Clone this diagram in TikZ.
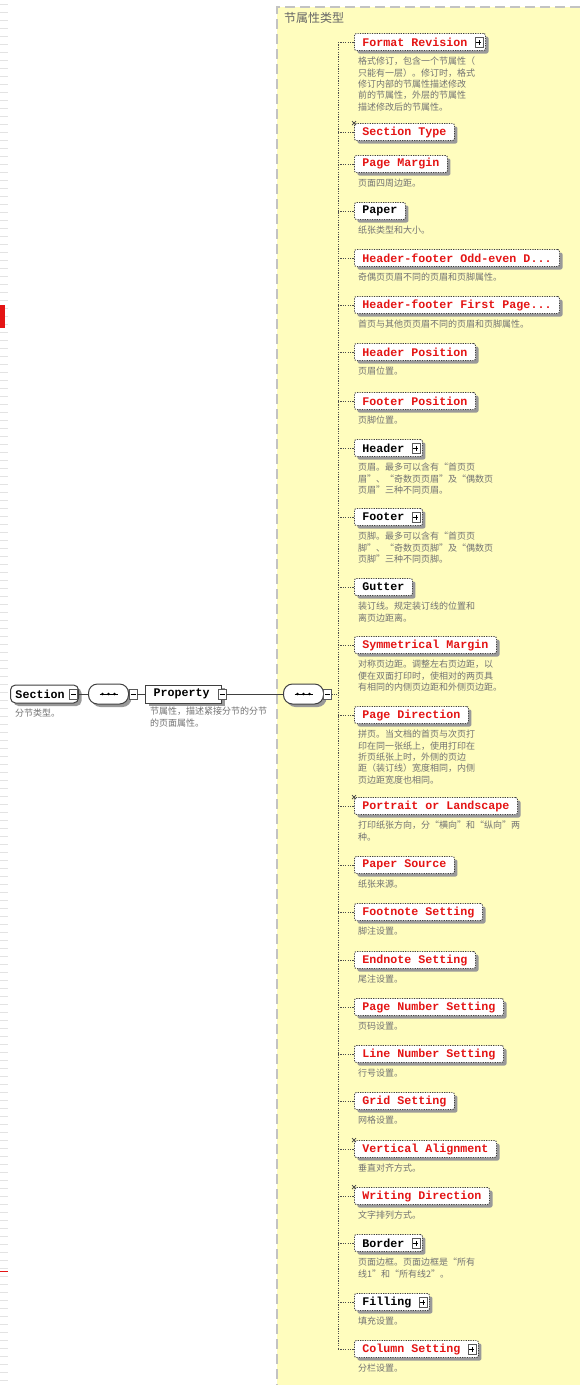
\documentclass[tikz,border=0pt]{standalone}
\usepackage{fontspec}
\setmonofont{Liberation Mono}
\newfontfamily\cjk{Noto Sans CJK SC}
\usetikzlibrary{shadows,calc}
\definecolor{panelyellow}{RGB}{255,253,190}
\definecolor{elred}{RGB}{228,20,20}
\definecolor{desctxt}{RGB}{115,115,115}
\definecolor{bordergray}{RGB}{195,195,195}
\tikzset{
  x=1pt,y=-1pt,
  shad/.style={drop shadow={shadow xshift=3pt,shadow yshift=-3pt,fill=black!40,opacity=1}},
  ebox/.style={draw=black!75,dash pattern=on 1.2pt off 1.2pt,line width=0.9pt,fill=white,
    rounded corners=2pt,minimum height=17pt,inner xsep=8pt,inner ysep=0pt,
    font=\ttfamily\bfseries\fontsize{11.67}{12}\selectfont,shad},
  rootbox/.style={draw=black!75,line width=1pt,fill=white,minimum height=18pt,inner ysep=0pt,
    font=\ttfamily\bfseries\fontsize{11.67}{12}\selectfont,shad},
  compbox/.style={draw=black!75,line width=1pt,fill=white,minimum width=40pt,minimum height=20pt,
    rounded corners=9pt,inner sep=0pt,shad},
  redel/.style={text=elred},
  blkel/.style={text=black},
  desc/.style={text=desctxt,font=\cjk\fontsize{9}{11.3}\selectfont,align=left,inner sep=0pt},
  stub/.style={draw=black!70,dash pattern=on 1.2pt off 1.2pt,line width=0.8pt},
  conn/.style={draw=black!75,line width=0.9pt},
  iconbase/.style={draw=black!65,fill=white,line width=0.6pt,minimum width=8pt,minimum height=10pt,inner sep=0pt},
  iconminus/.style={iconbase,path picture={\draw[black,line width=0.6pt]
      ($(path picture bounding box.center)+(-2.5pt,0pt)$) -- ++(5pt,0pt);}},
  iconplus/.style={iconbase,path picture={\draw[black,line width=0.6pt]
      ($(path picture bounding box.center)+(-2.5pt,0pt)$) -- ++(5pt,0pt)
      ($(path picture bounding box.center)+(0pt,-2.5pt)$) -- ++(0pt,5pt);}},
  panelborder/.style={draw=bordergray,line width=2.5pt,dash pattern=on 10pt off 5pt},
  cornermark/.style={draw=black!75,line width=0.7pt},
}
\newcommand\kid[4]{%
  \node[ebox,#3,anchor=west] (#1) at (354,#2) {#4};
  \draw[stub] (#1.west -| trunk) -- (#1.west);}
\newcommand\kiddesc[3]{\node[desc,anchor=north west] (#1d) at (358,#2+15) {#3};}
\newcommand\kidplus[1]{\node[iconplus] (#1p) at ([xshift=-7pt]#1.east) {};}
\newcommand\kidmark[1]{\draw[cornermark] ([xshift=-2pt,yshift=2pt]#1.north west) -- ++(4pt,-4pt)
  ([xshift=2pt,yshift=2pt]#1.north west) -- ++(-4pt,-4pt);}
\newcommand\gapx[1]{\rule{#1}{0pt}}
\begin{document}
\begin{tikzpicture}
\useasboundingbox (0,0) rectangle (580,1385);
\fill[white] (0,0) rectangle (580,1385);
% left-edge artefacts
\foreach \yy in {4,12,...,1380} \draw[black!11,line width=0.5pt] (0,\yy) -- (8,\yy);
\fill[elred] (0,305) rectangle (5,328);
\draw[elred,line width=1pt] (0,1271) -- (8,1271);
% panel
\fill[panelyellow] (277,7) rectangle (580,1385);
\draw[panelborder] (580,7) -- (277,7) -- (277,1385);
\node[anchor=west,text=black!60,font=\cjk\fontsize{12}{12}\selectfont,inner sep=0pt] (title) at (284,18) {节属性类型};
% root chain
\node[rootbox,rounded corners=5pt,inner xsep=5pt,anchor=west] (sec) at (10,694) {Section\gapx{9pt}};
\node[iconminus] (secm) at ([xshift=-5.5pt]sec.east) {};
\node[desc,anchor=north west] (secd) at (15,709) {分节类型。};
\node[compbox,anchor=west] (c1) at (88,694) {};
\draw[black,line width=0.8pt] ($(c1.center)+(-9pt,0pt)$) -- ++(18pt,0pt);
\foreach \dx in {-6,0,6} \fill[black] ($(c1.center)+(\dx pt,0pt)$) circle (1.3pt);
\node[iconminus] (c1m) at ([xshift=4pt]c1.east) {};
\node[rootbox,inner xsep=8pt,anchor=west] (prop) at (145,694) {Property\gapx{4pt}};
\node[iconminus] (propm) at ([xshift=0pt]prop.east) {};
\node[desc,anchor=north west] (propd) at (150,707) {节属性，描述紧接分节的分节\\的页面属性。};
\node[compbox,anchor=west] (c2) at (283,694) {};
\draw[black,line width=0.8pt] ($(c2.center)+(-9pt,0pt)$) -- ++(18pt,0pt);
\foreach \dx in {-6,0,6} \fill[black] ($(c2.center)+(\dx pt,0pt)$) circle (1.3pt);
\node[iconminus] (c2m) at ([xshift=3pt]c2.east) {};
\draw[conn] (sec.east) -- (c1.west);
\draw[conn] (c1m.east) -- (prop.west);
\draw[conn] (propm.east) -- (c2.west);
\coordinate (trunk) at (338,0);
\draw[stub] (c2m.east) -- (c2m.east -| trunk);
% children
\kid{fr}{42}{redel}{Format Revision\gapx{10pt}}\kidplus{fr}
\kiddesc{fr}{42}{格式修订，包含一个节属性（\\只能有一层）。修订时，格式\\修订内部的节属性描述修改\\前的节属性，外层的节属性\\描述修改后的节属性。}
\kid{st}{132}{redel}{Section Type}\kidmark{st}
\kid{pm}{164}{redel}{Page Margin}
\kiddesc{pm}{164}{页面四周边距。}
\kid{pa}{211}{blkel}{Paper}
\kiddesc{pa}{211}{纸张类型和大小。}
\kid{oe}{258}{redel}{Header-footer Odd-even D...}
\kiddesc{oe}{258}{奇偶页页眉不同的页眉和页脚属性。}
\kid{fp}{305}{redel}{Header-footer First Page...}
\kiddesc{fp}{305}{首页与其他页页眉不同的页眉和页脚属性。}
\kid{hp}{352}{redel}{Header Position}
\kiddesc{hp}{352}{页眉位置。}
\kid{fo}{401}{redel}{Footer Position}
\kiddesc{fo}{401}{页脚位置。}
\kid{hd}{448}{blkel}{Header\gapx{10pt}}\kidplus{hd}
\kiddesc{hd}{448}{页眉。最多可以含有“首页页\\眉”、“奇数页页眉”及“偶数页\\页眉”三种不同页眉。}
\kid{ft}{517}{blkel}{Footer\gapx{10pt}}\kidplus{ft}
\kiddesc{ft}{517}{页脚。最多可以含有“首页页\\脚”、“奇数页页脚”及“偶数页\\页脚”三种不同页脚。}
\kid{gu}{587}{blkel}{Gutter}
\kiddesc{gu}{587}{装订线。规定装订线的位置和\\离页边距离。}
\kid{sm}{645}{redel}{Symmetrical Margin}
\kiddesc{sm}{645}{对称页边距。调整左右页边距，以\\便在双面打印时，使相对的两页具\\有相同的内侧页边距和外侧页边距。}
\kid{pd}{715}{redel}{Page Direction}
\kiddesc{pd}{715}{拼页。当文档的首页与次页打\\印在同一张纸上，使用打印在\\折页纸张上时，外侧的页边\\距（装订线）宽度相同，内侧\\页边距宽度也相同。}
\kid{pl}{806}{redel}{Portrait or Landscape}\kidmark{pl}
\kiddesc{pl}{806}{打印纸张方向，分“横向”和“纵向”两\\种。}
\kid{ps}{865}{redel}{Paper Source}
\kiddesc{ps}{865}{纸张来源。}
\kid{fn}{912}{redel}{Footnote Setting}
\kiddesc{fn}{912}{脚注设置。}
\kid{en}{960}{redel}{Endnote Setting}
\kiddesc{en}{960}{尾注设置。}
\kid{pn}{1007}{redel}{Page Number Setting}
\kiddesc{pn}{1007}{页码设置。}
\kid{ln}{1054}{redel}{Line Number Setting}
\kiddesc{ln}{1054}{行号设置。}
\kid{gr}{1101}{redel}{Grid Setting}
\kiddesc{gr}{1101}{网格设置。}
\kid{va}{1149}{redel}{Vertical Alignment}\kidmark{va}
\kiddesc{va}{1149}{垂直对齐方式。}
\kid{wd}{1196}{redel}{Writing Direction}\kidmark{wd}
\kiddesc{wd}{1196}{文字排列方式。}
\kid{bd}{1243}{blkel}{Border\gapx{10pt}}\kidplus{bd}
\kiddesc{bd}{1243}{页面边框。页面边框是“所有\\线1”和“所有线2”。}
\kid{fi}{1302}{blkel}{Filling\gapx{10pt}}\kidplus{fi}
\kiddesc{fi}{1302}{填充设置。}
\kid{cs}{1349}{redel}{Column Setting\gapx{10pt}}\kidplus{cs}
\kiddesc{cs}{1349}{分栏设置。}
% trunk
\draw[stub] (fr.west -| trunk) -- (cs.west -| trunk);
\end{tikzpicture}
\end{document}
